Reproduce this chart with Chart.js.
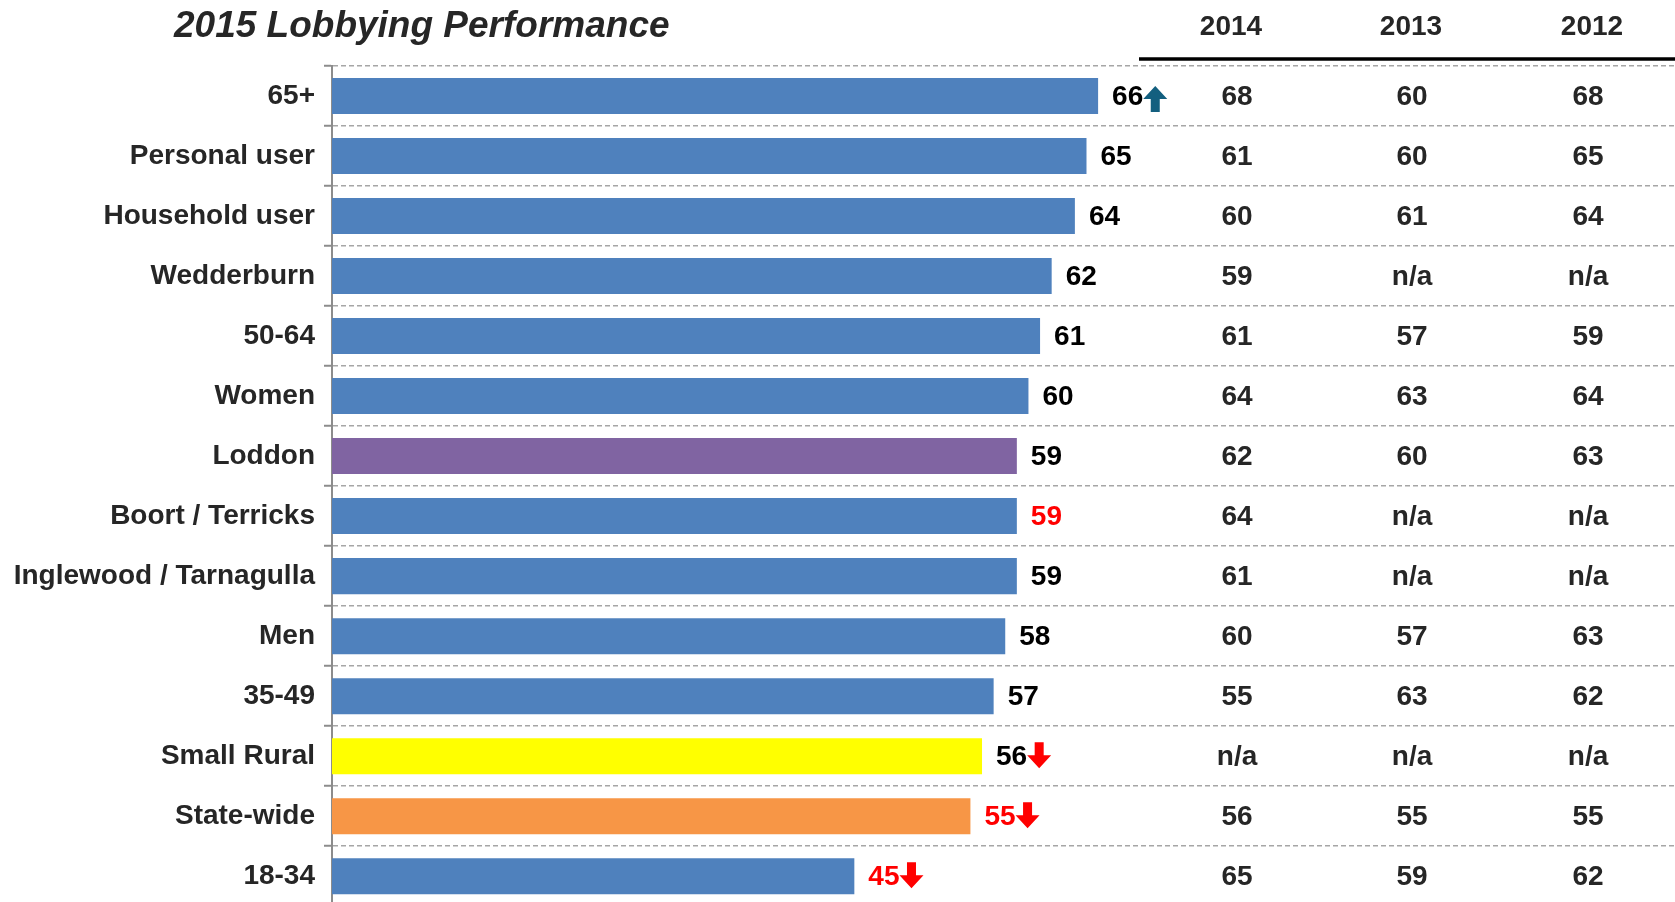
<!DOCTYPE html>
<html lang="en">
<head>
<meta charset="UTF-8">
<title>2015 Lobbying Performance</title>
<script src="https://cdn.jsdelivr.net/npm/chart.js"></script>
<style>
  html, body { margin: 0; padding: 0; background: #fff; overflow: hidden; }
  #wrap { position: relative; width: 1675px; height: 932px; }
</style>
</head>
<body>
<div id="wrap"><canvas id="lobbyChart"></canvas></div>
<script>
// data
const categories = ['65+', 'Personal user', 'Household user', 'Wedderburn', '50-64', 'Women', 'Loddon',
  'Boort / Terricks', 'Inglewood / Tarnagulla', 'Men', '35-49', 'Small Rural', 'State-wide', '18-34'];
const values2015 = [66, 65, 64, 62, 61, 60, 59, 59, 59, 58, 57, 56, 55, 45];
const values2014 = [68, 61, 60, 59, 61, 64, 62, 64, 61, 60, 55, null, 56, 65];
const values2013 = [60, 60, 61, null, 57, 63, 60, null, null, 57, 63, null, 55, 59];
const values2012 = [68, 65, 64, null, 59, 64, 63, null, null, 63, 62, null, 55, 62];
const yearLabels = ['2014', '2013', '2012'];
// significance vs state-wide: 'up', 'down' or ''
const trend = ['up', '', '', '', '', '', '', '', '', '', '', 'down', 'down', 'down'];
// values shown in red
const redValues = [false, false, false, false, false, false, false, true, false, false, false, false, true, true];

const BLUE = '#4f81bd';
const barColors = categories.map(c => {
    if (c === 'Loddon') return '#8064a2';
    if (c === 'Small Rural') return '#ffff00';
    if (c === 'State-wide') return '#f79646';
    return BLUE;
});

const FONT = '"Liberation Sans", Arial, sans-serif';
const headX = [1231, 1411, 1592];
const colX = [1237, 1412, 1588];

function drawArrow(ctx, x, yc, dir, color) {
    const w = 24, h = 26, head = 13, shaft = 9;
    const s = dir === 'up' ? -1 : 1;
    const tip = yc + s * h / 2, tail = yc - s * h / 2, neck = tip - s * head;
    ctx.save();
    ctx.fillStyle = color;
    ctx.beginPath();
    ctx.moveTo(x + w / 2, tip);
    ctx.lineTo(x + w, neck);
    ctx.lineTo(x + w / 2 + shaft / 2, neck);
    ctx.lineTo(x + w / 2 + shaft / 2, tail);
    ctx.lineTo(x + w / 2 - shaft / 2, tail);
    ctx.lineTo(x + w / 2 - shaft / 2, neck);
    ctx.lineTo(x, neck);
    ctx.closePath();
    ctx.fill();
    ctx.restore();
}

const tablePlugin = {
    id: 'tablePlugin',
    afterDatasetsDraw(chart) {
        const ctx = chart.ctx;
        const xs = chart.scales.x, ys = chart.scales.y;
        ctx.save();

        // title
        ctx.fillStyle = '#262626';
        ctx.font = 'italic bold 37px ' + FONT;
        ctx.textAlign = 'left';
        ctx.textBaseline = 'middle';
        ctx.fillText('2015 Lobbying Performance', 174, 27);

        // year headers + underline
        ctx.font = 'bold 28px ' + FONT;
        ctx.textAlign = 'center';
        yearLabels.forEach((t, i) => ctx.fillText(t, headX[i], 27));
        ctx.strokeStyle = '#000';
        ctx.lineWidth = 3.5;
        ctx.beginPath();
        ctx.moveTo(1139, 59);
        ctx.lineTo(chart.width, 59);
        ctx.stroke();

        // bar value labels with arrows
        values2015.forEach((v, i) => {
            const y = ys.getPixelForValue(i);
            const x = xs.getPixelForValue(v) + 14;
            ctx.font = 'bold 28px ' + FONT;
            ctx.textAlign = 'left';
            ctx.fillStyle = redValues[i] ? '#ff0000' : '#000';
            ctx.fillText(String(v), x, y + 1);
            const tw = ctx.measureText(String(v)).width;
            if (trend[i] === 'up') drawArrow(ctx, x + tw, y + 3, 'up', '#135f7f');
            if (trend[i] === 'down') drawArrow(ctx, x + tw, y - 1, 'down', '#ff0000');
        });

        // comparison columns
        ctx.fillStyle = '#262626';
        ctx.textAlign = 'center';
        [values2014, values2013, values2012].forEach((arr, c) => {
            arr.forEach((v, i) => {
                const y = ys.getPixelForValue(i);
                ctx.fillText(v === null ? 'n/a' : String(v), colX[c], y + 1);
            });
        });
        ctx.restore();
    }
};

const ctx = document.getElementById('lobbyChart').getContext('2d');
new Chart(ctx, {
    type: 'bar',
    data: {
        labels: categories,
        datasets: [{
            data: values2015,
            backgroundColor: barColors,
            barPercentage: 0.6,
            categoryPercentage: 1.0
        }]
    },
    options: {
        indexAxis: 'y',
        responsive: true,
        maintainAspectRatio: false,
        animation: false,
        layout: { padding: { top: 66, right: 0, bottom: 0, left: 0 } },
        scales: {
            x: { display: false, min: 0, max: 115.7 },
            y: {
                afterFit: (scale) => { scale.width = 332; },
                grid: {
                    color: '#a6a6a6',
                    lineWidth: 1.5,
                    offset: true,
                    drawTicks: true,
                    tickLength: 8,
                    tickColor: '#8c8c8c',
                    tickWidth: 2,
                    tickBorderDash: []
                },
                border: { display: true, color: '#8c8c8c', width: 2, dash: [5, 3] },
                ticks: {
                    autoSkip: false,
                    padding: 9,
                    color: '#262626',
                    font: { family: FONT, size: 28, weight: 'bold' }
                }
            }
        },
        plugins: {
            legend: { display: false },
            tooltip: { enabled: false }
        }
    },
    plugins: [tablePlugin]
});
</script>
</body>
</html>
